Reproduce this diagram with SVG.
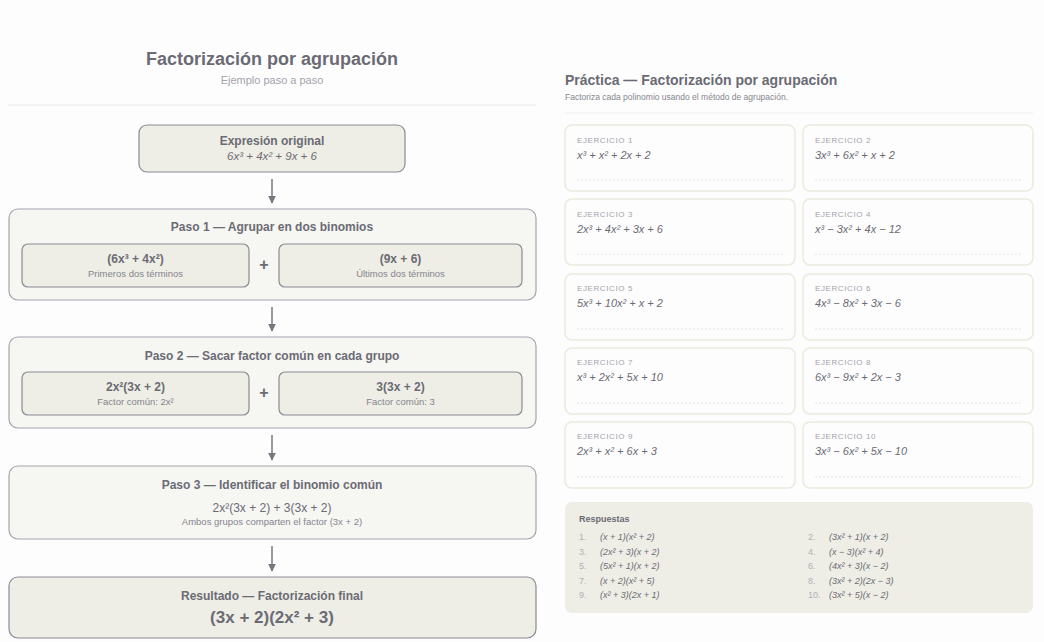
<svg xmlns="http://www.w3.org/2000/svg" width="1044" height="642" viewBox="0 0 1044 642">
<defs>
<style>
text{font-family:"Liberation Sans",Arial,sans-serif;fill:#6b6b74}
.title{font-size:18px;font-weight:bold;text-anchor:middle}
.sub{font-size:11px;fill:#a3a3aa;text-anchor:middle}
.h{font-size:12px;font-weight:bold;text-anchor:middle}
.m{font-size:11.5px;font-style:italic;text-anchor:middle}
.b{font-size:12px;font-weight:bold;text-anchor:middle}
.s{font-size:9.5px;fill:#85858d;text-anchor:middle}
.node{fill:#eeeee6;stroke:#8a8a93;stroke-width:1.2}
.step{fill:#f6f6f3;stroke:#a4a4ab;stroke-width:1.2}
.card{fill:#fdfdfe;stroke:#ebeadd;stroke-width:1.5}
.lbl{font-size:8px;fill:#a3a3aa;letter-spacing:0.6px}
.ex{font-size:11px;font-style:italic;fill:#6b6b74}
.ans{font-size:9px;font-style:italic;fill:#6b6b74}
.num{font-size:9px;fill:#b0b0b6}
.conn{stroke:#77777f;stroke-width:1.5;fill:none}
.dash{stroke:#e6e5da;stroke-width:1;stroke-dasharray:2 2}
</style>
<marker id="arr" viewBox="0 0 10 10" refX="9" refY="5" markerWidth="8" markerHeight="8" markerUnits="userSpaceOnUse" orient="auto">
<path d="M0,0 L10,5 L0,10 z" fill="#77777f"/>
</marker>
</defs>
<rect width="1044" height="642" fill="#fdfdfe"/>

<g id="left-header">
<text class="title" x="272" y="65">Factorización por agrupación</text>
<text class="sub" x="272" y="84">Ejemplo paso a paso</text>
<line x1="8" y1="105" x2="536" y2="105" stroke="#e8e8ec" stroke-width="1"/>
</g>

<g id="connectors">
<line class="conn" x1="272" y1="179" x2="272" y2="203" marker-end="url(#arr)"/>
<line class="conn" x1="272" y1="307" x2="272" y2="331" marker-end="url(#arr)"/>
<line class="conn" x1="272" y1="435" x2="272" y2="460" marker-end="url(#arr)"/>
<line class="conn" x1="272" y1="546" x2="272" y2="571" marker-end="url(#arr)"/>
</g>

<g id="node-original">
<rect class="node" x="139" y="125" width="266" height="47" rx="8"/>
<text class="h" x="272" y="145">Expresión original</text>
<text class="m" x="272" y="160">6x³ + 4x² + 9x + 6</text>
</g>

<g id="node-paso1">
<rect class="step" x="9" y="209" width="527" height="91" rx="9"/>
<text class="h" x="272" y="231">Paso 1 — Agrupar en dos binomios</text>
<rect class="node" x="22" y="244" width="227" height="43" rx="6"/>
<text class="b" x="135.5" y="263">(6x³ + 4x²)</text>
<text class="s" x="135.5" y="277">Primeros dos términos</text>
<text class="b" x="264" y="270" style="font-size:16px">+</text>
<rect class="node" x="279" y="244" width="243" height="43" rx="6"/>
<text class="b" x="400.5" y="263">(9x + 6)</text>
<text class="s" x="400.5" y="277">Últimos dos términos</text>
</g>

<g id="node-paso2">
<rect class="step" x="9" y="337" width="527" height="91" rx="9"/>
<text class="h" x="272" y="360">Paso 2 — Sacar factor común en cada grupo</text>
<rect class="node" x="22" y="372" width="227" height="43" rx="6"/>
<text class="b" x="135.5" y="391">2x²(3x + 2)</text>
<text class="s" x="135.5" y="405">Factor común: 2x²</text>
<text class="b" x="264" y="398" style="font-size:16px">+</text>
<rect class="node" x="279" y="372" width="243" height="43" rx="6"/>
<text class="b" x="400.5" y="391">3(3x + 2)</text>
<text class="s" x="400.5" y="405">Factor común: 3</text>
</g>

<g id="node-paso3">
<rect class="step" x="9" y="466" width="527" height="73" rx="9"/>
<text class="h" x="272" y="489">Paso 3 — Identificar el binomio común</text>
<text x="272" y="512" style="font-size:12px;text-anchor:middle">2x²(3x + 2) + 3(3x + 2)</text>
<text class="s" x="272" y="525">Ambos grupos comparten el factor (3x + 2)</text>
</g>

<g id="node-resultado">
<rect class="node" x="9" y="577" width="527" height="61" rx="9"/>
<text class="h" x="272" y="600">Resultado — Factorización final</text>
<text x="272" y="623" style="font-size:17px;font-weight:bold;text-anchor:middle">(3x + 2)(2x² + 3)</text>
</g>

<g id="right-header">
<text x="565" y="85" style="font-size:14px;font-weight:bold">Práctica — Factorización por agrupación</text>
<text x="565" y="100" style="font-size:8.5px;fill:#85858d">Factoriza cada polinomio usando el método de agrupación.</text>
<line x1="565" y1="113" x2="1033" y2="113" stroke="#eeeee8" stroke-width="1"/>
</g>

<g id="ex1"><rect class="card" x="565" y="125" width="230" height="66" rx="7"/><text class="lbl" x="577" y="143">EJERCICIO 1</text><text class="ex" x="577" y="159">x³ + x² + 2x + 2</text><line class="dash" x1="577" y1="180" x2="783" y2="180"/></g>
<g id="ex2"><rect class="card" x="803" y="125" width="230" height="66" rx="7"/><text class="lbl" x="815" y="143">EJERCICIO 2</text><text class="ex" x="815" y="159">3x³ + 6x² + x + 2</text><line class="dash" x1="815" y1="180" x2="1021" y2="180"/></g>
<g id="ex3"><rect class="card" x="565" y="199" width="230" height="66" rx="7"/><text class="lbl" x="577" y="217">EJERCICIO 3</text><text class="ex" x="577" y="233">2x³ + 4x² + 3x + 6</text><line class="dash" x1="577" y1="254" x2="783" y2="254"/></g>
<g id="ex4"><rect class="card" x="803" y="199" width="230" height="66" rx="7"/><text class="lbl" x="815" y="217">EJERCICIO 4</text><text class="ex" x="815" y="233">x³ − 3x² + 4x − 12</text><line class="dash" x1="815" y1="254" x2="1021" y2="254"/></g>
<g id="ex5"><rect class="card" x="565" y="274" width="230" height="66" rx="7"/><text class="lbl" x="577" y="291">EJERCICIO 5</text><text class="ex" x="577" y="307">5x³ + 10x² + x + 2</text><line class="dash" x1="577" y1="329" x2="783" y2="329"/></g>
<g id="ex6"><rect class="card" x="803" y="274" width="230" height="66" rx="7"/><text class="lbl" x="815" y="291">EJERCICIO 6</text><text class="ex" x="815" y="307">4x³ − 8x² + 3x − 6</text><line class="dash" x1="815" y1="329" x2="1021" y2="329"/></g>
<g id="ex7"><rect class="card" x="565" y="348" width="230" height="66" rx="7"/><text class="lbl" x="577" y="365">EJERCICIO 7</text><text class="ex" x="577" y="381">x³ + 2x² + 5x + 10</text><line class="dash" x1="577" y1="403" x2="783" y2="403"/></g>
<g id="ex8"><rect class="card" x="803" y="348" width="230" height="66" rx="7"/><text class="lbl" x="815" y="365">EJERCICIO 8</text><text class="ex" x="815" y="381">6x³ − 9x² + 2x − 3</text><line class="dash" x1="815" y1="403" x2="1021" y2="403"/></g>
<g id="ex9"><rect class="card" x="565" y="422" width="230" height="66" rx="7"/><text class="lbl" x="577" y="439">EJERCICIO 9</text><text class="ex" x="577" y="455">2x³ + x² + 6x + 3</text><line class="dash" x1="577" y1="477" x2="783" y2="477"/></g>
<g id="ex10"><rect class="card" x="803" y="422" width="230" height="66" rx="7"/><text class="lbl" x="815" y="439">EJERCICIO 10</text><text class="ex" x="815" y="455">3x³ − 6x² + 5x − 10</text><line class="dash" x1="815" y1="477" x2="1021" y2="477"/></g>

<g id="answers">
<rect x="565" y="502" width="468" height="111" rx="7" fill="#eeeee6"/>
<text x="579" y="522" style="font-size:9px;font-weight:bold">Respuestas</text>
<text class="num" x="579" y="540">1.</text><text class="ans" x="600" y="540">(x + 1)(x² + 2)</text>
<text class="num" x="808" y="540">2.</text><text class="ans" x="829" y="540">(3x² + 1)(x + 2)</text>
<text class="num" x="579" y="555">3.</text><text class="ans" x="600" y="555">(2x² + 3)(x + 2)</text>
<text class="num" x="808" y="555">4.</text><text class="ans" x="829" y="555">(x − 3)(x² + 4)</text>
<text class="num" x="579" y="569">5.</text><text class="ans" x="600" y="569">(5x² + 1)(x + 2)</text>
<text class="num" x="808" y="569">6.</text><text class="ans" x="829" y="569">(4x² + 3)(x − 2)</text>
<text class="num" x="579" y="584">7.</text><text class="ans" x="600" y="584">(x + 2)(x² + 5)</text>
<text class="num" x="808" y="584">8.</text><text class="ans" x="829" y="584">(3x² + 2)(2x − 3)</text>
<text class="num" x="579" y="598">9.</text><text class="ans" x="600" y="598">(x² + 3)(2x + 1)</text>
<text class="num" x="808" y="598">10.</text><text class="ans" x="829" y="598">(3x² + 5)(x − 2)</text>
</g>
</svg>
